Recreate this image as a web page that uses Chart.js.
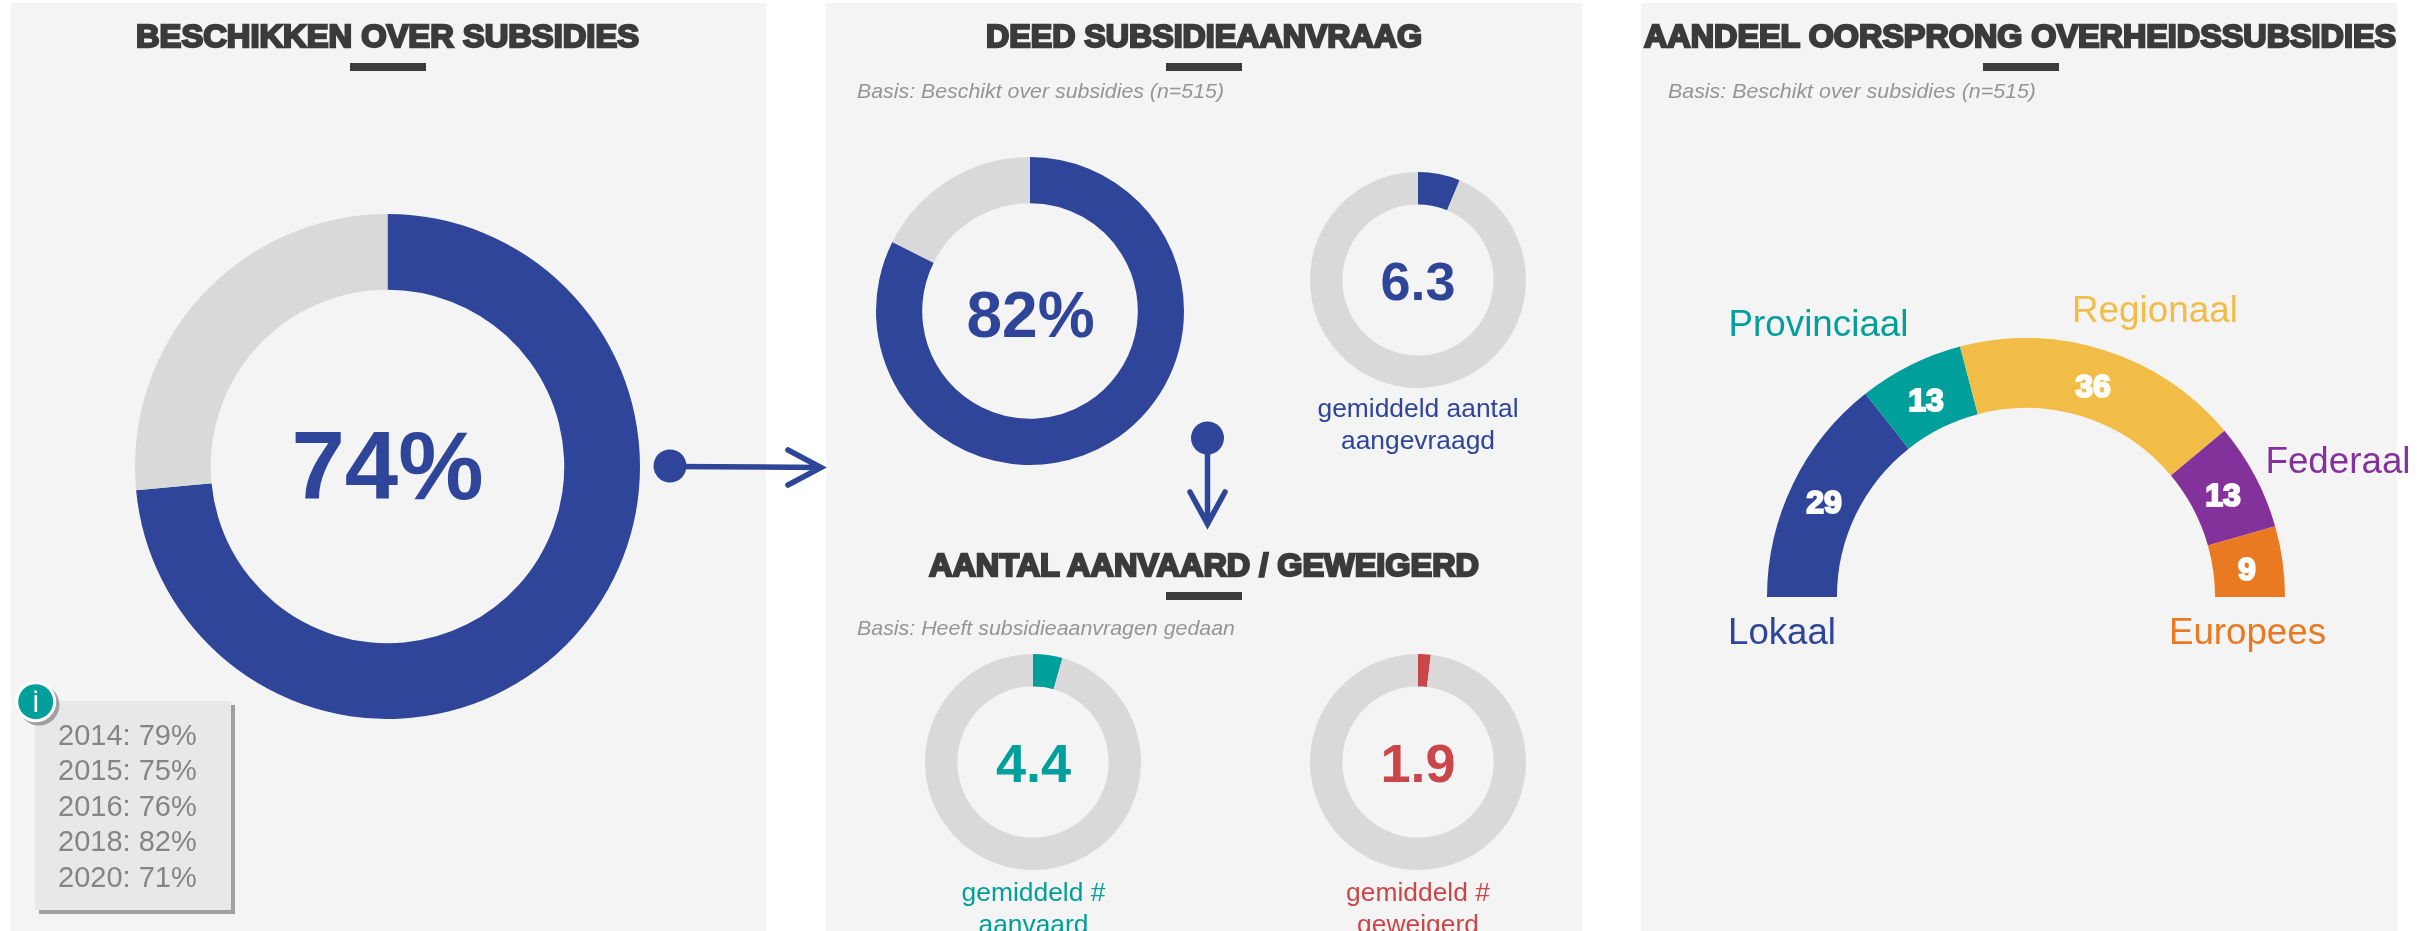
<!DOCTYPE html>
<html><head><meta charset="utf-8">
<script src="https://cdn.jsdelivr.net/npm/chart.js@4"></script>
<style>
html,body{margin:0;padding:0;background:#fff;width:2430px;height:931px;overflow:hidden}
.panel{position:absolute;top:3px;height:928px;background:#f4f4f4}
canvas{position:absolute;display:block}
svg{position:absolute;left:0;top:0}
text{font-family:"Liberation Sans",Arial,sans-serif}
.t{font-weight:bold;font-size:32px;fill:#3b3b3b;stroke:#3b3b3b;stroke-width:2.3px;text-anchor:middle}
.s{font-style:italic;font-size:21px;fill:#959595}
.big{font-weight:bold;text-anchor:middle}
.l{font-size:26.4px;text-anchor:middle}
.g{font-size:37px}
.v{font-weight:bold;font-size:32px;fill:#fff;stroke:#fff;stroke-width:2px;text-anchor:middle}
.h{font-size:29px;fill:#858585}
</style></head><body>
<div class="panel" style="left:11px;width:755px"></div>
<div class="panel" style="left:826px;width:756px"></div>
<div class="panel" style="left:1641px;width:756px"></div>
<canvas id="c1" style="left:135px;top:214px" width="505" height="505"></canvas>
<canvas id="c2" style="left:876px;top:157px" width="308" height="308"></canvas>
<canvas id="c3" style="left:1310px;top:172px" width="216" height="216"></canvas>
<canvas id="c4" style="left:925px;top:654px" width="216" height="216"></canvas>
<canvas id="c5" style="left:1310px;top:654px" width="216" height="216"></canvas>
<canvas id="c6" style="left:1767px;top:338px" width="518" height="259"></canvas>
<svg id="ov" width="2430" height="931" xmlns="http://www.w3.org/2000/svg"></svg>
<script>
// ---- data ----
const beschikken = [73.5, 26.5];
const deedAanvraag = [82.4, 17.6];
const gemAangevraagd = [6.3, 93.7];
const gemAanvaard = [4.4, 95.6];
const gemGeweigerd = [1.9, 98.1];
const oorsprongLabels = ['Lokaal', 'Provinciaal', 'Regionaal', 'Federaal', 'Europees'];
const oorsprongValues = [28.7, 13.1, 36, 13.4, 8.8];
const historyYears = ['2014', '2015', '2016', '2018', '2020'];
const historyValues = [79, 75, 76, 82, 71];

// ---- styling ----
const BLUE = '#2f4599', GREY = '#d9d9d9', TEAL = '#009f9b', RED = '#c9474b',
      YELLOW = '#f2bd47', PURPLE = '#84329b', ORANGE = '#e97a22', DARK = '#3b3b3b';

function donut(id, values, color) {
  return new Chart(document.getElementById(id), {
    type: 'doughnut',
    data: { labels: ['waarde', 'rest'], datasets: [{ data: values, backgroundColor: [color, GREY], borderWidth: 0 }] },
    options: { responsive: false, animation: false, cutout: '70%', layout: { padding: 0 },
      plugins: { legend: { display: false }, tooltip: { enabled: false } } }
  });
}
donut('c1', beschikken, BLUE);
donut('c2', deedAanvraag, BLUE);
donut('c3', gemAangevraagd, BLUE);
donut('c4', gemAanvaard, TEAL);
donut('c5', gemGeweigerd, RED);
new Chart(document.getElementById('c6'), {
  type: 'doughnut',
  data: { labels: oorsprongLabels, datasets: [{ data: oorsprongValues,
    backgroundColor: [BLUE, TEAL, YELLOW, PURPLE, ORANGE], borderWidth: 0 }] },
  options: { responsive: false, animation: false, rotation: -90, circumference: 180, cutout: '73%',
    layout: { padding: 0 }, plugins: { legend: { display: false }, tooltip: { enabled: false } } }
});

// ---- overlay text and decoration ----
const NS = 'http://www.w3.org/2000/svg', ov = document.getElementById('ov');
function el(name, attrs, txt) {
  const e = document.createElementNS(NS, name);
  for (const k in attrs) e.setAttribute(k, attrs[k]);
  if (txt !== undefined) e.textContent = txt;
  ov.appendChild(e); return e;
}
function title(txt, cx, y, w, bx) {
  el('text', { class: 't', x: cx, y: y, textLength: w, lengthAdjust: 'spacingAndGlyphs' }, txt);
  el('rect', { x: bx, y: y + 16, width: 76, height: 8, fill: DARK });
}
function txt(cls, x, y, s, extra) { return el('text', Object.assign({ class: cls, x: x, y: y }, extra || {}), s); }

title('BESCHIKKEN OVER SUBSIDIES', 387.5, 47, 503, 350);
title('DEED SUBSIDIEAANVRAAG', 1204, 47, 436, 1166);
title('AANTAL AANVAARD / GEWEIGERD', 1204, 576, 550, 1166);
title('AANDEEL OORSPRONG OVERHEIDSSUBSIDIES', 2020, 47, 752, 1983);

txt('s', 857, 98, 'Basis: Beschikt over subsidies (n=515)', { textLength: 367, lengthAdjust: 'spacingAndGlyphs' });
txt('s', 857, 635, 'Basis: Heeft subsidieaanvragen gedaan', { textLength: 378, lengthAdjust: 'spacingAndGlyphs' });
txt('s', 1668, 98, 'Basis: Beschikt over subsidies (n=515)', { textLength: 368, lengthAdjust: 'spacingAndGlyphs' });

function big(x, y, size, color, s) { txt('big', x, y, s, { 'font-size': size, fill: color }); }
big(387.5, 499, 96, BLUE, Math.round(beschikken[0] + 0.01) + '%');
big(1030.5, 337, 64, BLUE, Math.round(deedAanvraag[0]) + '%');
big(1418, 300, 54, BLUE, gemAangevraagd[0].toFixed(1));
big(1033.5, 781.5, 54, TEAL, gemAanvaard[0].toFixed(1));
big(1418, 781.5, 54, RED, gemGeweigerd[0].toFixed(1));

txt('l', 1418, 417, 'gemiddeld aantal', { fill: BLUE });
txt('l', 1418, 449, 'aangevraagd', { fill: BLUE });
txt('l', 1033.5, 900.5, 'gemiddeld #', { fill: TEAL });
txt('l', 1033.5, 933, 'aanvaard', { fill: TEAL });
txt('l', 1418, 900.5, 'gemiddeld #', { fill: RED });
txt('l', 1418, 933, 'geweigerd', { fill: RED });

// gauge labels
const gaugeLabelPos = [[1728, 644, 108], [1728.5, 336, 180], [2072, 321.5, 166], [2265.5, 472.5, 145], [2169, 644, 157]];
const gaugeColors = [BLUE, TEAL, YELLOW, PURPLE, ORANGE];
oorsprongLabels.forEach((s, i) => txt('g', gaugeLabelPos[i][0], gaugeLabelPos[i][1], s,
  { fill: gaugeColors[i], textLength: gaugeLabelPos[i][2], lengthAdjust: 'spacingAndGlyphs' }));
const gaugeValPos = [[1824, 512.5], [1926, 411], [2093, 397], [2223, 506], [2247, 579.5]];
oorsprongValues.forEach((v, i) => txt('v', gaugeValPos[i][0], gaugeValPos[i][1], String(Math.round(v))));

// arrows
function arrow(d, cx, cy) {
  el('circle', { cx: cx, cy: cy, r: 16.5, fill: BLUE });
  el('path', { d: d, fill: 'none', stroke: BLUE, 'stroke-width': 5.5, 'stroke-linecap': 'round', 'stroke-linejoin': 'miter' });
}
arrow('M670 466.5 L821 467.5 M788 450 L821 467.5 L788 485', 670, 466);
arrow('M1207.5 440 L1207.5 524 M1190 492 L1207.5 524 L1225 492', 1207.5, 438);

// info box
el('rect', { x: 39, y: 705, width: 196, height: 209, fill: '#a0a0a0' });
el('rect', { x: 35, y: 701, width: 196, height: 209, fill: '#e8e8e8' });
const histY = [745, 780, 815.5, 851, 886.5];
historyYears.forEach((y, i) => txt('h', 58, histY[i], y + ': ' + historyValues[i] + '%'));
el('circle', { cx: 39, cy: 705, r: 20.5, fill: '#a0a0a0' });
el('circle', { cx: 35.7, cy: 701.7, r: 20.5, fill: '#fff' });
el('circle', { cx: 35.7, cy: 701.7, r: 17.5, fill: TEAL });
el('rect', { x: 34.5, y: 695, width: 2.6, height: 17, fill: '#fff' });
el('circle', { cx: 35.7, cy: 691.7, r: 1.5, fill: '#fff' });
</script>
</body></html>
